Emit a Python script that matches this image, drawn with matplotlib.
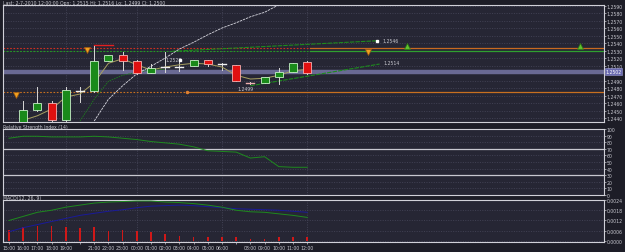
import matplotlib
matplotlib.use("Agg")
import matplotlib.pyplot as plt
import numpy as np

# ---------------- data ----------------
times = ["15:00", "16:00", "17:00", "18:00", "19:00", "", "21:00", "22:00", "23:00", "00:00",
         "01:00", "02:00", "03:00", "04:00", "05:00", "06:00", "", "08:00", "09:00", "10:00",
         "11:00", "12:00"]
opens  = [np.nan, 1.2433, 1.2451, 1.2460, 1.2437, 1.2476, 1.2476, 1.2516, 1.2524, 1.2516, 1.2500,
          1.2508, 1.2508, 1.2509, 1.2517, 1.2512, 1.2511, 1.2487, 1.2487, 1.2495, 1.2501, 1.2515]
highs  = [np.nan, 1.2463, 1.2481, 1.2463, 1.2481, 1.2481, 1.2536, 1.2524, 1.2528, 1.2517, 1.2512,
          1.2528, 1.2517, 1.2518, 1.2517, 1.2513, 1.2511, 1.2488, 1.2495, 1.2507, 1.2514, 1.2516]
lows   = [np.nan, 1.2430, 1.2450, 1.2434, 1.2434, 1.2461, 1.2475, 1.2516, 1.2504, 1.2499, 1.2500,
          1.2501, 1.2503, 1.2509, 1.2509, 1.2504, 1.2489, 1.2486, 1.2487, 1.2485, 1.2501, 1.2499]
closes = [np.nan, 1.2451, 1.2460, 1.2437, 1.2477, 1.2476, 1.2516, 1.2524, 1.2516, 1.2500, 1.2507,
          1.2508, 1.2508, 1.2517, 1.2512, 1.2512, 1.2489, 1.2487, 1.2495, 1.2501, 1.2513, 1.2500]

ma_fast = [np.nan, 1.2437, 1.2443, 1.2452, 1.2468, 1.2472, 1.2487, 1.2513, 1.2519, 1.2511, 1.2504,
           1.2508, 1.2511, 1.2513, 1.2512, 1.2508, 1.2497, 1.2492, 1.2493, 1.2497, 1.2503, 1.2505]
ma_slow = [np.nan, np.nan, np.nan, np.nan, np.nan, 1.2436, 1.2465, 1.2489, 1.2497, 1.2501, 1.2504,
           1.2505]
curve_white = [np.nan] * 6 + [1.2436, 1.2465, 1.2483, 1.2499, 1.2509, 1.2520, 1.2532, 1.2541,
                              1.2551, 1.2560, 1.2567, 1.2575, 1.2581, 1.2591]

current_price = 1.2502
level_red = 1.2534
level_green = 1.2529
level_orange = 1.2475

trend_upper_x = [11.5, 25.9]
trend_upper_y = [1.2529, 1.2543]
trend_lower_x = [17.0, 26.1]
trend_lower_y = [1.2483, 1.2512]

fractal_down_x = [0.5, 5.5, 25.3]
fractal_down_y = [1.2471, 1.2531, 1.2528]
fractal_up_x = [28.0, 40.2]
fractal_up_y = [1.2536, 1.2536]

price_ticks = [round(1.2440 + 0.001 * k, 4) for k in range(16)]

rsi = [86, 89, 89, 88, 88, 88, 89, 88, 86, 84, 81, 79, 77, 73, 67, 66, 65, 56, 58, 43, 42, 42]
rsi_ticks = [0, 10, 20, 30, 40, 50, 60, 70, 80, 90, 100]

macd_main = [0.00120, 0.00144, 0.00168, 0.00180, 0.00198, 0.00210, 0.00222, 0.00228, 0.00231,
             0.00234, 0.00234, 0.00228, 0.00225, 0.00219, 0.00210, 0.00198, 0.00180, 0.00171,
             0.00168, 0.00159, 0.00150, 0.00138]
macd_signal = [0.00054, 0.00078, 0.00096, 0.00114, 0.00132, 0.00150, 0.00162, 0.00174, 0.00183,
               0.00195, 0.00204, 0.00207, 0.00210, 0.00207, 0.00201, 0.00195, 0.00189, 0.00186,
               0.00183, 0.00180, 0.00174, 0.00168]
macd_hist = [0.00066, 0.00084, 0.00090, 0.00090, 0.00084, 0.00078, 0.00084, 0.00060, 0.00066,
             0.00060, 0.00054, 0.00042, 0.00030, 0.00024, 0.00024, 0.00024, 0.00024, 0.00012,
             0.00010, 0.00024, 0.00024, 0.00024]
macd_ticks = [0.0, 0.0006, 0.0012, 0.0018, 0.0024]

title_text = "Last: 2-7-2010 12:00:00 Opn: 1.2515 Hi: 1.2516 Lo: 1.2499 Cl: 1.2500"

# ---------------- style ----------------
FIG_BG = "#1d1d27"
AX_BG = "#262634"
GRID = "#4a4a5e"
TXT = "#c8c8d0"
FS = 3.3

fig = plt.figure(figsize=(6.25, 2.53), dpi=100, facecolor=FIG_BG)
W, H = 625.0, 253.0

def box(x0, y0, x1, y1):
    return [x0 / W, 1 - y1 / H, (x1 - x0) / W, (y1 - y0) / H]

ax1 = fig.add_axes(box(3, 6, 604, 123))
ax2 = fig.add_axes(box(3, 130, 604, 196), sharex=ax1)
ax3 = fig.add_axes(box(3, 201, 604, 243), sharex=ax1)

x = np.arange(len(times))
xmin = -6 / 14.2
xmax = xmin + 601 / 14.2

for ax in (ax1, ax2, ax3):
    ax.set_facecolor(AX_BG)
    for s in ax.spines.values():
        s.set_color("#d0d0d8")
        s.set_linewidth(0.8)
    ax.yaxis.tick_right()
    ax.tick_params(axis="y", colors=TXT, labelsize=FS, length=1.2, width=0.5, pad=0.8)
    ax.tick_params(axis="x", colors=TXT, labelsize=FS, length=1.2, width=0.5, pad=0.8)
    ax.grid(True, axis="y", color=GRID, linestyle=(0, (1.5, 2)), linewidth=0.5)
    ax.set_xlim(xmin, xmax)
    for gx in (4, 9, 15, 21):
        ax.axvline(gx, color=GRID, linestyle=(0, (1.5, 2)), linewidth=0.5, zorder=0)

# ---------- main price panel ----------
ax1.set_ylim(1.24347, 1.25907)
ax1.set_yticks([t for t in price_ticks if abs(t - 1.2500) > 1e-6])
ax1.set_yticklabels([f"{t:.4f}" for t in price_ticks if abs(t - 1.2500) > 1e-6])
plt.setp(ax1.get_xticklabels(), visible=False)
ax1.tick_params(axis="x", length=0)

# horizontal levels
ax1.axhline(current_price, color="#6a6a94", linewidth=3.2, zorder=1)
ax1.plot([xmin, 21.2], [level_red, level_red], color="#d03020", linestyle=(0, (1.5, 1.5)), lw=0.8, zorder=2)
ax1.plot([xmin, 21.2], [level_green, level_green], color="#20a020", linestyle=(0, (1.5, 1.5)), lw=0.8, zorder=2)
ax1.plot([21.2, xmax], [level_red, level_red], color="#c86a20", lw=0.9, zorder=2)
ax1.plot([21.2, xmax], [level_green, level_green], color="#30a030", lw=0.9, zorder=2)
ax1.plot([xmin, 12.5], [level_orange, level_orange], color="#c87020", linestyle=(0, (1.5, 1.5)), lw=0.8, zorder=2)
ax1.plot([12.5, xmax], [level_orange, level_orange], color="#c87020", lw=0.9, zorder=2)
ax1.plot([12.5], [level_orange], "o", color="#e08030", markersize=1.5, zorder=3)
ax1.plot([6, 7.3], [highs[6] + 0.0001, highs[6] + 0.0001], color="#e02020", lw=1.0, zorder=3)

# trend lines
ax1.plot(trend_upper_x, trend_upper_y, color="#1e8a1e", lw=0.8, linestyle=(0, (4, 1)), zorder=2)
ax1.plot(trend_lower_x, trend_lower_y, color="#1e8a1e", lw=0.8, linestyle=(0, (4, 1)), zorder=2)
ax1.plot([trend_upper_x[1]], [trend_upper_y[1]], "s", color="white", markersize=1.6, zorder=4)
ax1.text(trend_upper_x[1] + 0.4, trend_upper_y[1], "1.2546", color=TXT, fontsize=FS, va="center", zorder=4)
ax1.text(trend_lower_x[1] + 0.3, trend_lower_y[1] + 0.0002, "1.2514", color=TXT, fontsize=FS, va="center", zorder=4)

# moving averages and curve
ax1.plot(x[:len(ma_slow)], ma_slow, color="#1e7a1e", lw=0.6, linestyle=(0, (2, 1)), zorder=3)
ax1.plot(x[:len(curve_white)], curve_white, color="#d8d8e0", lw=0.6, linestyle=(0, (3, 1)), zorder=3)
ax1.plot(x, ma_fast, color="#a8a060", lw=0.7, zorder=5)

# candles
bw = 0.56
for i in range(len(times)):
    o, h, l, c = opens[i], highs[i], lows[i], closes[i]
    if np.isnan(o):
        continue
    ax1.plot([i, i], [l, h], color="#d8d8d8", lw=0.7, zorder=4)
    if abs(c - o) < 0.00005:
        col = "#f0b0b0" if i == 17 else "#f0f0f0"
        ax1.plot([i - bw / 2, i + bw / 2], [o, o], color=col, lw=1.0, zorder=6)
        continue
    if c > o:
        face, edge = "#1a8a1a", "#c8f0c8"
    else:
        face, edge = "#e01010", "#f8b0b0"
    ax1.add_patch(plt.Rectangle((i - bw / 2, min(o, c)), bw, abs(c - o),
                                facecolor=face, edgecolor=edge, lw=0.6, zorder=6))

# fractal markers
ax1.plot(fractal_down_x, fractal_down_y, "v", color="#f0a020", markeredgecolor="#a05a10",
         markersize=4.5, markeredgewidth=0.5, zorder=7)
ax1.plot(fractal_up_x, fractal_up_y, "^", color="#60c030", markeredgecolor="#2a7a10",
         markersize=4.5, markeredgewidth=0.5, zorder=7)

# high / low labels
ax1.text(11.0, 1.2518, "1.2528", color=TXT, fontsize=FS, va="center", zorder=8)
ax1.plot([12.05], [1.2518], "s", color="white", markersize=1.6, zorder=8)
ax1.text(16.1, 1.2479, "1.2499", color=TXT, fontsize=FS, va="center", zorder=8)

# current price tag
ax1.text(1.002, current_price, f"{current_price:.4f}", transform=ax1.get_yaxis_transform(),
         color="white", fontsize=FS, va="center", ha="left",
         bbox=dict(boxstyle="square,pad=0.15", facecolor="#6a6ab0", edgecolor="#9a9ad0", lw=0.4),
         zorder=10, clip_on=False)

fig.text(3 / W, 1 - 3 / H, title_text, color=TXT, fontsize=FS, va="center", ha="left")

# ---------- RSI panel ----------
ax2.set_ylim(0, 100)
ax2.set_yticks(rsi_ticks)
ax2.set_yticklabels([str(t) for t in rsi_ticks])
ax2.axhline(70, color="#c8c8d0", lw=0.9)
ax2.axhline(30, color="#c8c8d0", lw=0.9)
ax2.plot(x, rsi, color="#1e8a1e", lw=0.7, zorder=3)
plt.setp(ax2.get_xticklabels(), visible=False)
ax2.tick_params(axis="x", length=0)
fig.text(3 / W, 1 - 127 / H, "Relative Strength Index (14)", color=TXT, fontsize=FS, va="center", ha="left")

# ---------- MACD panel ----------
ax3.set_ylim(-0.00006, 0.0024)
ax3.set_yticks(macd_ticks)
ax3.set_yticklabels([f"{t:.4f}" for t in macd_ticks])
ax3.bar(x, macd_hist, width=0.12, color="#d01818", zorder=2)
ax3.plot(x, macd_signal, color="#1a1a9a", lw=0.7, zorder=3)
ax3.plot(x, macd_main, color="#1e8a1e", lw=0.7, zorder=3)
ax3.set_xticks(x)
ax3.set_xticklabels(times)
fig.text(3 / W, 1 - 198.5 / H, "MACD(12, 26, 9)", color=TXT, fontsize=FS, va="center", ha="left")

fig.savefig("out.png", dpi=100, facecolor=FIG_BG)
